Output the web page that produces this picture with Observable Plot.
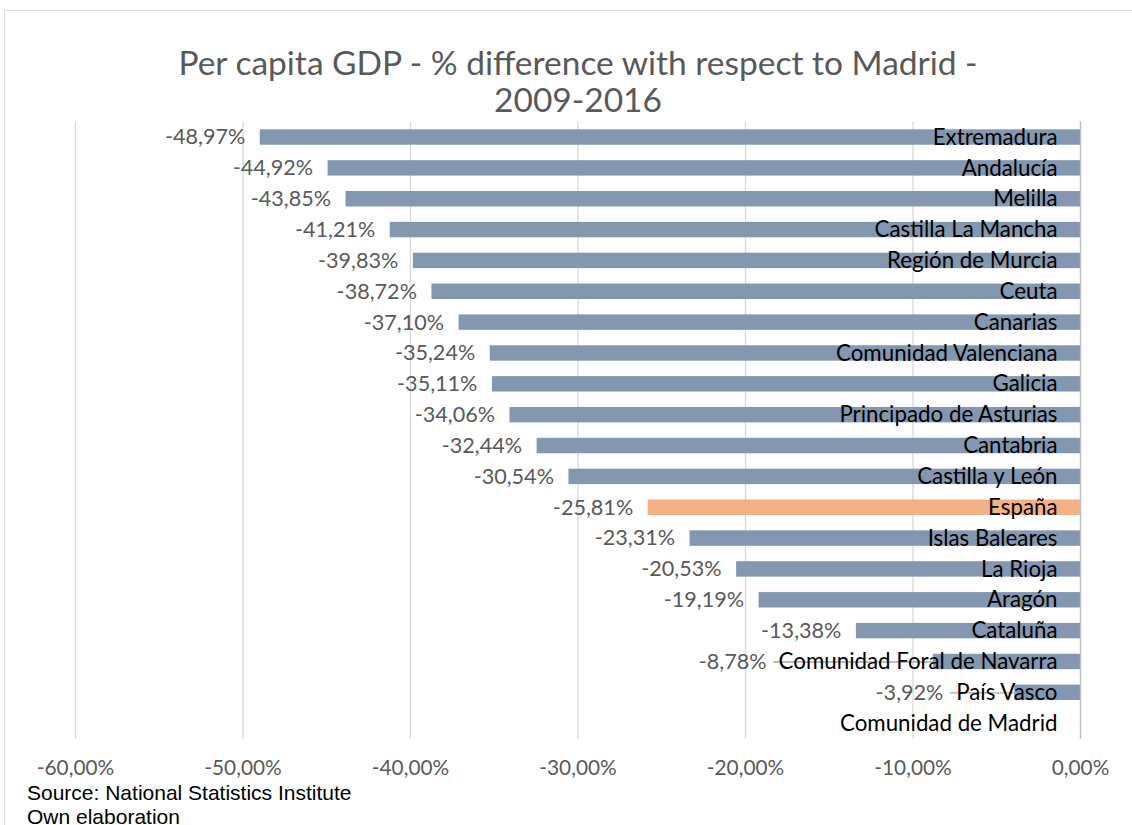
<!DOCTYPE html>
<html><head><meta charset="utf-8">
<script src="https://cdn.jsdelivr.net/npm/d3@7"></script>
<script src="https://cdn.jsdelivr.net/npm/@observablehq/plot@0.6"></script>
<style>
body{margin:0;background:#fff;overflow:hidden;width:1132px;height:825px;position:relative;}
#frame{position:absolute;left:4px;top:10px;width:1150px;height:840px;border:1px solid #D9D9D9;}
#title{position:absolute;left:4px;width:1148px;top:44px;text-align:center;font-family:Lato;font-size:33.5px;line-height:37px;color:#595959;}
#chart{position:absolute;left:0;top:100px;}
#src{position:absolute;left:27px;top:781px;font-family:"Liberation Sans",Arial,sans-serif;font-size:21px;line-height:24px;color:#000;}
</style></head>
<body>
<div id="frame"></div>
<div id="title">Per capita GDP - % difference with respect to Madrid -<br>2009-2016</div>
<div id="chart"></div>
<div id="src">Source: National Statistics Institute<br>Own elaboration</div>
<script>
const categories = ["Extremadura","Andalucía","Melilla","Castilla La Mancha","Región de Murcia","Ceuta","Canarias","Comunidad Valenciana","Galicia","Principado de Asturias","Cantabria","Castilla y León","España","Islas Baleares","La Rioja","Aragón","Cataluña","Comunidad Foral de Navarra","País Vasco","Comunidad de Madrid"];
const values = [-48.97,-44.92,-43.85,-41.21,-39.83,-38.72,-37.10,-35.24,-35.11,-34.06,-32.44,-30.54,-25.81,-23.31,-20.53,-19.19,-13.38,-8.78,-3.92,0];
const highlight = "España";
const xTicks = [-60,-50,-40,-30,-20,-10,0];

const W = 1132, H = 690, ML = 75, MR = 52, MT = 21.6, MB = 51.4;
const FONT = "Lato", CAT_FS = 22.3, VAL_FS = 21.6, AX_FS = 20.8;
const pxPerUnit = (W - ML - MR) / 60;
const catDx = -23, valDx = -15;

const ctx = document.createElement("canvas").getContext("2d");
ctx.font = `${CAT_FS}px ${FONT}`;
const fmt = v => v.toFixed(2).replace(".", ",") + "%";

const data = categories.map((c, i) => {
  const value = values[i];
  const catW = ctx.measureText(c).width;
  const catStartPx = catDx - catW;               // px offset from x=0
  const barStartPx = value * pxPerUnit;
  const collide = value !== 0 && barStartPx > catStartPx - 4;
  return {
    cat: c, value, collide,
    labelX: collide ? (catStartPx - 12) / pxPerUnit : value,
    lineX: (catStartPx - 5) / pxPerUnit
  };
});
const labelled = data.filter(d => d.value !== 0);

const chart = Plot.plot({
  width: W, height: H,
  marginLeft: ML, marginRight: MR, marginTop: MT, marginBottom: MB,
  style: {fontFamily: FONT, fontSize: AX_FS + "px", color: "#595959", background: "transparent"},
  x: {domain: [-60, 0], ticks: xTicks, tickFormat: fmt, tickSize: 0, tickPadding: 21, label: null},
  y: {domain: categories, axis: null, paddingInner: 0.5, paddingOuter: 0.25, round: false},
  marks: [
    Plot.gridX(xTicks, {stroke: "#D9D9D9", strokeOpacity: 1, strokeWidth: 1.3}),
    Plot.barX(data, {x1: 0, x2: "value", y: "cat", fill: d => d.cat === highlight ? "#F4B183" : "#8497B0"}),
    Plot.ruleX([0], {stroke: "#BFBFBF", strokeWidth: 1.3}),
    Plot.ruleY(labelled.filter(d => d.collide), {x1: "lineX", x2: "value", y: "cat", stroke: "#A6A6A6", strokeWidth: 1.3}),
    Plot.text(labelled.filter(d => !d.collide), {x: "labelX", y: "cat", text: d => fmt(d.value), textAnchor: "end", dx: valDx, fill: "#595959", fontSize: VAL_FS}),
    Plot.text(labelled.filter(d => d.collide), {x: "labelX", y: "cat", text: d => fmt(d.value), textAnchor: "end", fill: "#595959", fontSize: VAL_FS}),
    Plot.text(data, {x: 0, y: "cat", text: "cat", textAnchor: "end", dx: catDx, fill: "#000", fontSize: CAT_FS})
  ]
});
document.getElementById("chart").appendChild(chart);
</script>
</body></html>
